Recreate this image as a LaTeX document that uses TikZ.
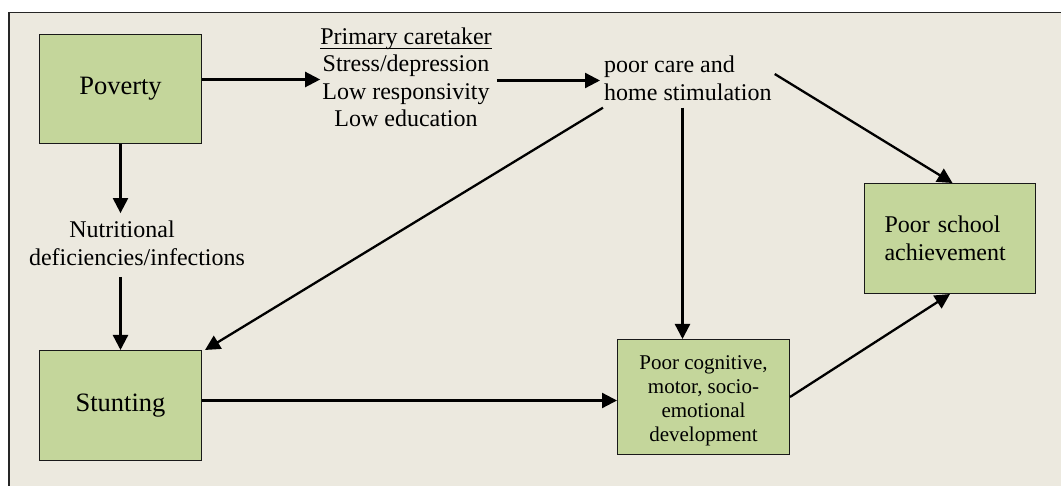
\documentclass[tikz,border=0pt]{standalone}
\usepackage{fontspec}
\setmainfont{Liberation Serif}
\usetikzlibrary{arrows.meta,calc}
\definecolor{bgc}{HTML}{ECE9DF}
\definecolor{boxc}{HTML}{C4D69B}
\newcommand\myul[1]{{\setbox0\hbox{#1}\rlap{\rule[-4.5pt]{\wd0}{1.3pt}}\box0}}
\begin{document}
\begin{tikzpicture}[x=1pt,y=-1pt,
  box/.style={draw=black!90, line width=1pt, fill=boxc, inner sep=0pt, anchor=north west},
  lbl/.style={inner sep=0pt, font=\fontsize{24}{27.5}\selectfont},
  big/.style={font=\fontsize{26.5}{30}\selectfont},
  arr/.style={line width=2.3pt, -{Triangle[length=15pt,width=15pt]}}]
\useasboundingbox (0,0) rectangle (1061,486);
\fill[white] (0,0) rectangle (1061,486);
\fill[bgc] (9,12.5) rectangle (1061,486);
\draw[line width=1.3pt, black!85] (9,486) -- (9,12.5) -- (1061,12.5);

\node[box, big, minimum width=162pt, minimum height=109pt] (pov) at (39,34) {Poverty};
\node[box, big, minimum width=162pt, minimum height=110pt] (stunt) at (39,350) {Stunting};
\node[box, align=center, minimum width=172pt, minimum height=115pt,
      font=\fontsize{21}{24}\selectfont] (cog) at (617,339)
      {\rule{0pt}{22pt}Poor cognitive,\\motor, socio-\\emotional\\development};
\node[box, align=left, text width=131pt, minimum width=171pt, minimum height=110pt,
      font=\fontsize{24}{28.5}\selectfont] (school) at (864,183)
      {Poor school\\achievement};

\node[lbl, align=center] (care) at (406,77.5)
  {\myul{Primary caretaker}\\Stress/depression\\Low responsivity\\Low education};
\node[lbl, align=left, anchor=west] (stim) at (604,78.3) {poor care and\\home stimulation};
\node[lbl, align=center] (nut) at (137,243.5) {Nutritional\hspace*{30pt}\\deficiencies/infections};

\coordinate (p1) at ($(pov.east)+(0,-9.5)$);
\draw[arr] (p1) -- (p1 -| care.west);
\coordinate (c1) at ($(care.east)+(5,3)$);
\draw[arr] (c1) -- ($(c1 -| stim.west)+(-4,0)$);
\draw[arr] ($(stim.east)+(3,-4.3)$) -- ($(school.north)+(2.5,0)$);
\coordinate (v1) at ($(cog.north |- stim.south)+(-21,7)$);
\draw[arr] (v1) -- (v1 |- cog.north);
\draw[arr] ($(stim.south west)+(-1,7)$) -- ($(stunt.north east)+(3,0)$);
\draw[arr] (pov.south) -- ($(pov.south |- nut.north)+(0,-8)$);
\draw[arr] ($(pov.south |- nut.south)+(0,11)$) -- (stunt.north);
\coordinate (s1) at ($(stunt.east)+(0,-5)$);
\draw[arr] (s1) -- (s1 -| cog.west);
\draw[arr] (cog.east) -- (school.south);
\end{tikzpicture}
\end{document}
